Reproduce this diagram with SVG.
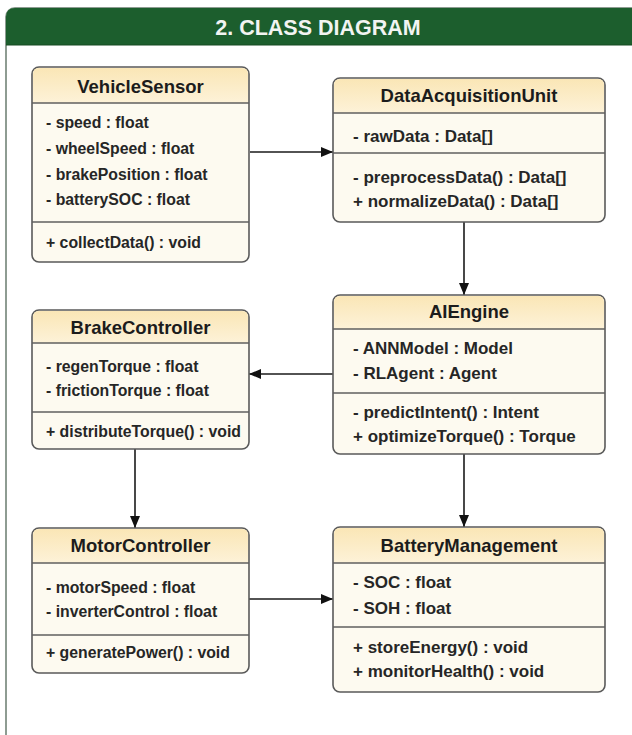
<svg xmlns="http://www.w3.org/2000/svg" width="632" height="735" viewBox="0 0 632 735">
  <defs>
    <linearGradient id="hdrFill" x1="0" y1="0" x2="0" y2="1">
      <stop offset="0" stop-color="#fae6b6"/>
      <stop offset="1" stop-color="#fdf2d8"/>
    </linearGradient>
    <marker id="arrow" viewBox="0 0 12 10" refX="12" refY="5" markerWidth="12" markerHeight="10" markerUnits="userSpaceOnUse" orient="auto">
      <path d="M0,0 L12,5 L0,10 Z" fill="#111"/>
    </marker>
    <style>
      .frame { fill: #ffffff; stroke: #8e9c92; stroke-width: 2; }
      .banner { fill: #1c5e2d; }
      .banner-text { font-family: "Liberation Sans", Arial, sans-serif; font-weight: bold; font-size: 21.5px; fill: #f2f4f2; text-anchor: middle; }
      .box { fill: #fdfaf0; stroke: #5a5a5a; stroke-width: 1.6; }
      .head { fill: url(#hdrFill); }
      .rule { stroke: #5f5f5f; stroke-width: 1.4; }
      .title { font-family: "Liberation Sans", Arial, sans-serif; font-weight: bold; font-size: 18.5px; fill: #1c1c1c; text-anchor: middle; }
      .member { font-family: "Liberation Sans", Arial, sans-serif; font-weight: bold; font-size: 15.8px; fill: #262626; }
      .member-lg { font-family: "Liberation Sans", Arial, sans-serif; font-weight: bold; font-size: 17px; fill: #262626; }
      .link { stroke: #1a1a1a; stroke-width: 1.6; fill: none; marker-end: url(#arrow); }
    </style>
  </defs>

  <!-- outer panel with green banner -->
  <rect class="frame" x="6" y="8" width="650" height="750" rx="9"/>
  <path class="banner" d="M6,45 L6,17 Q6,8 15,8 L640,8 L640,45 Z"/>
  <line x1="6" y1="45" x2="632" y2="45" stroke="#164a23" stroke-width="1.2"/>
  <text class="banner-text" x="318" y="35">2. CLASS DIAGRAM</text>

  <!-- connectors -->
  <g id="connectors">
    <line class="link" x1="250" y1="152" x2="333" y2="152"/>
    <line class="link" x1="464" y1="222" x2="464" y2="295"/>
    <line class="link" x1="333" y1="374" x2="249" y2="374"/>
    <line class="link" x1="135" y1="449" x2="135" y2="528"/>
    <line class="link" x1="464" y1="454" x2="464" y2="527"/>
    <line class="link" x1="249" y1="599" x2="333" y2="599"/>
  </g>

  <!-- VehicleSensor -->
  <g id="VehicleSensor">
    <rect class="box" x="32" y="67" width="217" height="195" rx="7"/>
    <path class="head" d="M33,103 L33,74 Q33,68 39,68 L242,68 Q248,68 248,74 L248,103 Z"/>
    <line class="rule" x1="32" y1="103" x2="249" y2="103"/>
    <line class="rule" x1="32" y1="222" x2="249" y2="222"/>
    <text class="title" x="140.5" y="93">VehicleSensor</text>
    <text class="member" x="46" y="128">- speed : float</text>
    <text class="member" x="46" y="154">- wheelSpeed : float</text>
    <text class="member" x="46" y="180">- brakePosition : float</text>
    <text class="member" x="46" y="205">- batterySOC : float</text>
    <text class="member" x="46" y="248">+ collectData() : void</text>
  </g>

  <!-- DataAcquisitionUnit -->
  <g id="DataAcquisitionUnit">
    <rect class="box" x="333" y="78" width="272" height="144" rx="7"/>
    <path class="head" d="M334,113 L334,85 Q334,79 340,79 L598,79 Q604,79 604,85 L604,113 Z"/>
    <line class="rule" x1="333" y1="113" x2="605" y2="113"/>
    <line class="rule" x1="333" y1="153" x2="605" y2="153"/>
    <text class="title" x="469" y="102">DataAcquisitionUnit</text>
    <text class="member-lg" x="353" y="142">- rawData : Data[]</text>
    <text class="member-lg" x="353" y="183">- preprocessData() : Data[]</text>
    <text class="member-lg" x="353" y="207">+ normalizeData() : Data[]</text>
  </g>

  <!-- BrakeController -->
  <g id="BrakeController">
    <rect class="box" x="32" y="310" width="217" height="139" rx="7"/>
    <path class="head" d="M33,343 L33,317 Q33,311 39,311 L242,311 Q248,311 248,317 L248,343 Z"/>
    <line class="rule" x1="32" y1="343" x2="249" y2="343"/>
    <line class="rule" x1="32" y1="412" x2="249" y2="412"/>
    <text class="title" x="140.5" y="334">BrakeController</text>
    <text class="member" x="46" y="372">- regenTorque : float</text>
    <text class="member" x="46" y="396">- frictionTorque : float</text>
    <text class="member" x="46" y="437">+ distributeTorque() : void</text>
  </g>

  <!-- AIEngine -->
  <g id="AIEngine">
    <rect class="box" x="333" y="295" width="272" height="159" rx="7"/>
    <path class="head" d="M334,329 L334,302 Q334,296 340,296 L598,296 Q604,296 604,302 L604,329 Z"/>
    <line class="rule" x1="333" y1="329" x2="605" y2="329"/>
    <line class="rule" x1="333" y1="393" x2="605" y2="393"/>
    <text class="title" x="469" y="318">AIEngine</text>
    <text class="member-lg" x="353" y="354">- ANNModel : Model</text>
    <text class="member-lg" x="353" y="379">- RLAgent : Agent</text>
    <text class="member-lg" x="353" y="418">- predictIntent() : Intent</text>
    <text class="member-lg" x="353" y="442">+ optimizeTorque() : Torque</text>
  </g>

  <!-- MotorController -->
  <g id="MotorController">
    <rect class="box" x="32" y="528" width="217" height="145" rx="7"/>
    <path class="head" d="M33,563 L33,535 Q33,529 39,529 L242,529 Q248,529 248,535 L248,563 Z"/>
    <line class="rule" x1="32" y1="563" x2="249" y2="563"/>
    <line class="rule" x1="32" y1="635" x2="249" y2="635"/>
    <text class="title" x="140.5" y="552">MotorController</text>
    <text class="member" x="46" y="593">- motorSpeed : float</text>
    <text class="member" x="46" y="617">- inverterControl : float</text>
    <text class="member" x="46" y="658">+ generatePower() : void</text>
  </g>

  <!-- BatteryManagement -->
  <g id="BatteryManagement">
    <rect class="box" x="333" y="527" width="272" height="165" rx="7"/>
    <path class="head" d="M334,563 L334,534 Q334,528 340,528 L598,528 Q604,528 604,534 L604,563 Z"/>
    <line class="rule" x1="333" y1="563" x2="605" y2="563"/>
    <line class="rule" x1="333" y1="627" x2="605" y2="627"/>
    <text class="title" x="469" y="552">BatteryManagement</text>
    <text class="member-lg" x="353" y="588">- SOC : float</text>
    <text class="member-lg" x="353" y="614">- SOH : float</text>
    <text class="member-lg" x="353" y="653">+ storeEnergy() : void</text>
    <text class="member-lg" x="353" y="677">+ monitorHealth() : void</text>
  </g>
</svg>
